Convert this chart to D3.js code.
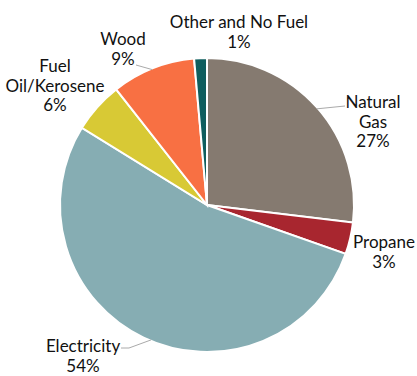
<!DOCTYPE html>
<html>
<head>
<meta charset="utf-8">
<script src="https://cdn.jsdelivr.net/npm/d3@7"></script>
<style>
  body { margin: 0; background: #fff; }
  text { font-family: Lato, "Open Sans", sans-serif; font-size: 17px; fill: #111; }
</style>
</head>
<body>
<svg id="chart"></svg>
<script>
const categories = ['Natural Gas', 'Propane', 'Electricity', 'Fuel Oil/Kerosene', 'Wood', 'Other and No Fuel'];
const shares = [26.9, 3.5, 53.4, 5.6, 9.2, 1.4];
const labelLines = [['Natural', 'Gas', '27%'], ['Propane', '3%'], ['Electricity', '54%'],
  ['Fuel', 'Oil/Kerosene', '6%'], ['Wood', '9%'], ['Other and No Fuel', '1%']];
const colors = ['#857a70', '#a8262f', '#86adb3', '#d8c935', '#f87043', '#0f5e5e'];

// label placement relative to pie centre (first line baseline)
const labelPos = [
  { x: 166, y: -97 }, { x: 177, y: 43 }, { x: -124, y: 147 },
  { x: -152, y: -133 }, { x: -84, y: -160 }, { x: 32, y: -177 }
];
// leader lines: angle on rim (deg), then points relative to centre
const leaders = [
  { a: 48.8, pts: [[138, -99]] },
  { a: 202.5, pts: [[-78, 143], [-86, 143]] },
  { a: 338, pts: [[-71, -140]] }
];

const W = 417, H = 376, cx = 207, cy = 205, r = 147;
const svg = d3.select('#chart').attr('width', W).attr('height', H);
const g = svg.append('g').attr('transform', `translate(${cx},${cy})`);

const pie = d3.pie().sort(null).value(d => d)(shares);
const arc = d3.arc().innerRadius(0).outerRadius(r);

g.selectAll('path.slice')
  .data(pie)
  .enter()
  .append('path')
  .attr('class', 'slice')
  .attr('d', arc)
  .attr('fill', (d, i) => colors[i])
  .attr('stroke', '#fff')
  .attr('stroke-width', 2);

leaders.forEach(l => {
  const a = l.a * Math.PI / 180;
  const start = [Math.sin(a) * (r - 1), -Math.cos(a) * (r - 1)];
  g.append('polyline')
    .attr('points', [start].concat(l.pts).map(p => p.join(',')).join(' '))
    .attr('fill', 'none')
    .attr('stroke', '#aaa')
    .attr('stroke-width', 1);
});

labelLines.forEach((lines, i) => {
  const t = g.append('text')
    .attr('text-anchor', 'middle')
    .attr('x', labelPos[i].x)
    .attr('y', labelPos[i].y);
  lines.forEach((s, j) => {
    t.append('tspan').attr('x', labelPos[i].x).attr('dy', j ? 19.5 : 0).text(s);
  });
});
</script>
</body>
</html>
